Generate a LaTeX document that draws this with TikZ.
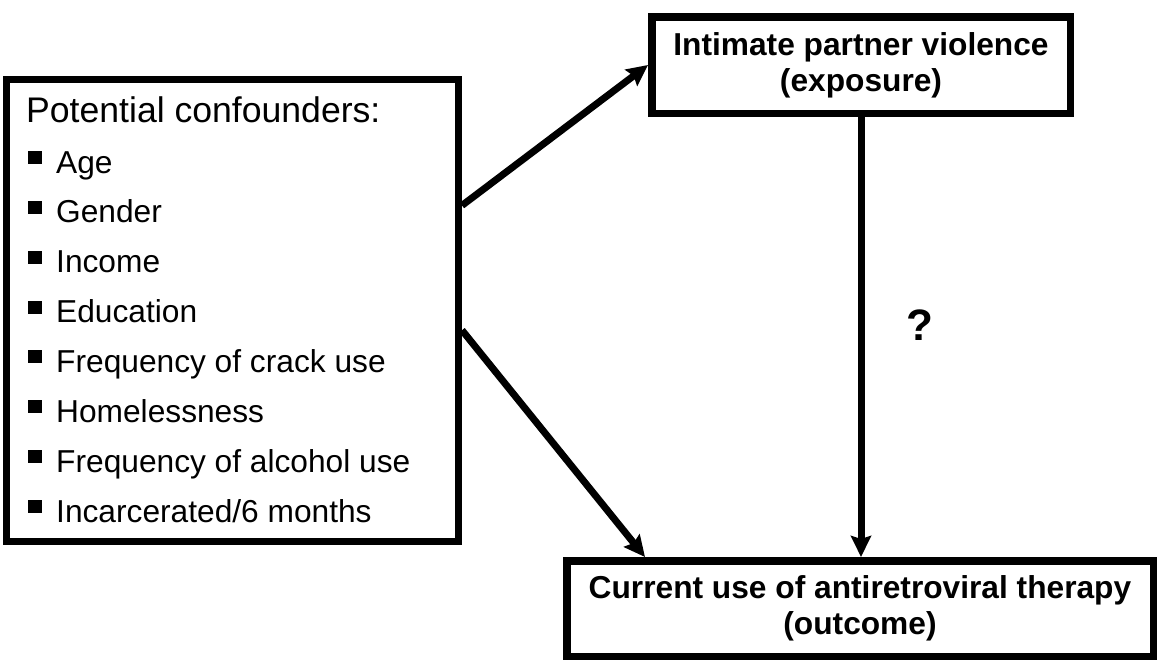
\documentclass[tikz,border=0pt]{standalone}
\usepackage{fontspec}
\setmainfont{Liberation Sans}
\usepackage{tikz}
\usetikzlibrary{arrows.meta, positioning, calc}

\begin{document}
\begin{tikzpicture}[x=1pt, y=-1pt,
    box/.style={rectangle, draw=black, line width=7.5pt, inner sep=0pt,
                align=center, font=\fontsize{31.7}{36}\selectfont\bfseries},
    listbox/.style={rectangle, draw=black, line width=7pt, inner sep=0pt,
                    minimum width=452pt, minimum height=462pt},
    heading/.style={anchor=base west, inner sep=0pt,
                    font=\fontsize{35.6}{40}\selectfont},
    entry/.style={anchor=base west, inner sep=0pt,
                  font=\fontsize{31.7}{38}\selectfont},
    arrow/.style={-{Stealth[length=21pt, width=20pt, inset=3pt]}, line width=7pt}
  ]
    \useasboundingbox (0,0) rectangle (1160,667);

    % boxes
    \node[listbox] at (232.5, 310.5) (conf) {};
    \node[box, minimum width=418.5pt, minimum height=96.5pt] at (861, 65) (ipv)
      {Intimate partner violence\\(exposure)};
    \node[box, minimum width=586.5pt, minimum height=95.5pt] at (860, 608.5) (art)
      {Current use of antiretroviral therapy\\(outcome)};

    % confounder list
    \node[heading] at (26, 122) (head) {Potential confounders:};
    \foreach \txt [count=\k from 0] in {Age, Gender, Income, Education,
        Frequency of crack use, Homelessness, Frequency of alcohol use,
        {Incarcerated/6 months}} {
      \node[entry] at (56, 173+49.86*\k) (entry\k) {\txt};
      \fill (28, 173+49.86*\k-22) rectangle ++(14, 13);
    }

    % arrows
    \draw[arrow] ($(conf.north east)!0.276!(conf.south east)$) -- (ipv.west);
    \draw[arrow] ($(conf.north east)!0.542!(conf.south east)$) -- ($(art.north west)+(82,0)$);
    \draw[arrow] (ipv.south) -- (ipv.south |- art.north);
    \node[font=\fontsize{44}{44}\selectfont\bfseries] at (920, 325) (qmark) {?};
  \end{tikzpicture}
\end{document}
